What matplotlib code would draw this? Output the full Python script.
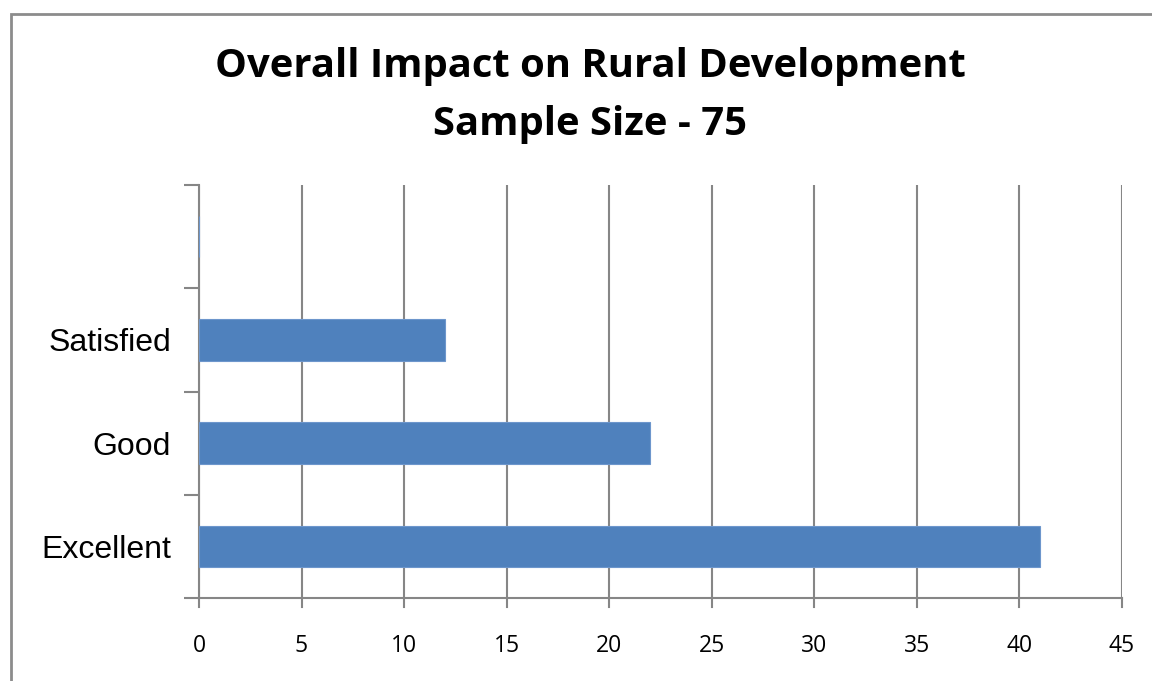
import matplotlib.pyplot as plt
from matplotlib.patches import Rectangle

# chart data (top slot is an empty category in the source)
categories = ["Excellent", "Good", "Satisfied", ""]
counts = [41, 22, 12, 0]
x_ticks = [0, 5, 10, 15, 20, 25, 30, 35, 40, 45]

bar_color = "#4f81bd"
grid_color = "#868686"

fig = plt.figure(figsize=(11.52, 6.81), dpi=100)
ax = fig.add_axes([199 / 1152, 1 - 598 / 681, (1122 - 199) / 1152, (598 - 185) / 681])

pos = list(range(len(categories)))
ax.barh(pos, counts, height=0.4, color=bar_color, edgecolor="#6d96cc", linewidth=0.8, zorder=3)

ax.set_xlim(0, 45)
ax.set_ylim(-0.5, len(categories) - 0.5)
ax.set_xticks(x_ticks)
ax.set_xticklabels([str(t) for t in x_ticks], fontsize=16.5, family="Open Sans")
ax.set_yticks(pos)
ax.set_yticklabels(categories, fontsize=23, family="Liberation Sans")
ax.tick_params(axis="y", length=0, pad=20)
ax.tick_params(axis="x", length=0, pad=26)

# minor ticks on category boundaries, like the Excel axis
ax.set_yticks([p - 0.5 for p in pos] + [len(categories) - 0.5], minor=True)
ax.tick_params(axis="y", which="minor", length=11, width=1.5, color=grid_color)

ax.grid(axis="x", color=grid_color, linewidth=1.5, zorder=0)
for s in ["top", "right"]:
    ax.spines[s].set_visible(False)
for s in ["left", "bottom"]:
    ax.spines[s].set_color(grid_color)
    ax.spines[s].set_linewidth(1.5)

# small tick stubs below the x axis
for t in x_ticks:
    ax.plot([t, t], [-0.5, -0.59], color=grid_color, linewidth=1.5, clip_on=False)

fig.text(590 / 1152, 1 - 67 / 681, "Overall Impact on Rural Development",
         ha="center", va="center", fontsize=28.8, fontweight="bold", family="Open Sans")
fig.text(590 / 1152, 1 - 125 / 681, "Sample Size - 75",
         ha="center", va="center", fontsize=28.8, fontweight="bold", family="Open Sans")

# outer chart border, runs off the right and bottom edges
fig.add_artist(Rectangle((11 / 1152, -0.1), 1.2, 1 - 14 / 681 + 0.1, transform=fig.transFigure,
                         fill=False, edgecolor="#8c8c8c", linewidth=2, clip_on=False))

fig.savefig("out.png", dpi=100)
